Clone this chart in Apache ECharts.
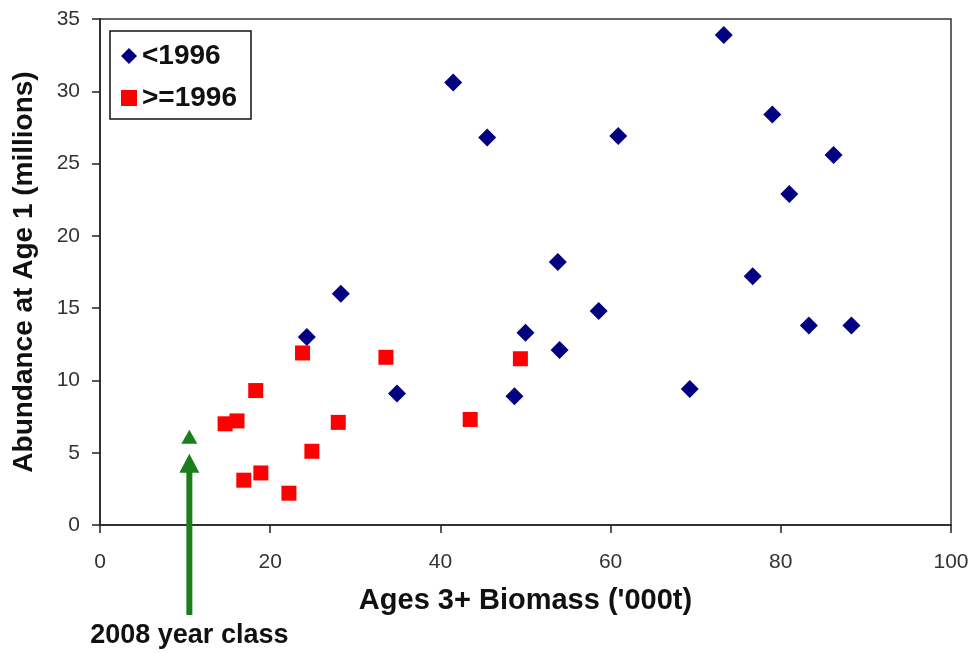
<!DOCTYPE html>
<html>
<head>
<meta charset="utf-8">
<script src="https://cdn.jsdelivr.net/npm/echarts@6/dist/echarts.min.js"></script>
<style>html,body{margin:0;padding:0;background:#fff}#c{width:974px;height:653px}</style>
</head>
<body>
<div id="c"></div>
<script>
// Series <1996 (blue diamonds)
const oldX = [41.5, 73.3, 45.5, 60.9, 79.0, 86.2, 81.0, 53.8, 76.7, 28.3, 58.6, 24.3, 50.0, 83.3, 88.3, 54.0, 34.9, 48.7, 69.3];
const oldY = [30.6, 33.9, 26.8, 26.9, 28.4, 25.6, 22.9, 18.2, 17.2, 16.0, 14.8, 13.0, 13.3, 13.8, 13.8, 12.1, 9.1, 8.9, 9.4];
// Series >=1996 (red squares)
const newX = [23.8, 33.6, 49.4, 18.3, 14.7, 16.1, 28.0, 43.5, 24.9, 16.9, 18.9, 22.2];
const newY = [11.9, 11.6, 11.5, 9.3, 7.0, 7.2, 7.1, 7.3, 5.1, 3.1, 3.6, 2.2];
// 2008 year class (green triangle)
const ycX = [10.5];
const ycY = [6.1];
const seriesNames = ['<1996', '>=1996'];
const annotation = '2008 year class';
const xTitle = "Ages 3+ Biomass ('000t)";
const yTitle = 'Abundance at Age 1 (millions)';

const zip = (a, b) => a.map((v, i) => [v, b[i]]);
const FF = '"Liberation Sans", Arial, sans-serif';

const chart = echarts.init(document.getElementById('c'), null, {renderer: 'canvas'});
const option = {
  animation: false,
  backgroundColor: '#fff',
  textStyle: {fontFamily: FF},
  grid: {left: 100, right: 23, top: 19, bottom: 128, show: true, borderColor: '#333', borderWidth: 1.5, backgroundColor: 'transparent'},
  legend: {
    data: seriesNames,
    orient: 'vertical',
    left: 110, top: 31,
    padding: [11, 14, 7, 11],
    itemGap: 14,
    itemWidth: 16, itemHeight: 16,
    borderColor: '#111', borderWidth: 1.5,
    backgroundColor: '#fff',
    textStyle: {fontSize: 28, fontWeight: 'bold', color: '#111', fontFamily: FF}
  },
  xAxis: {
    type: 'value', min: 0, max: 100, interval: 20,
    name: xTitle, nameLocation: 'middle', nameGap: 61,
    nameTextStyle: {fontSize: 29, fontWeight: 'bold', color: '#111', fontFamily: FF},
    axisLine: {show: true, onZero: false, lineStyle: {color: '#222', width: 1.5}},
    axisTick: {show: true, inside: false, length: 8, lineStyle: {color: '#222', width: 1.5}},
    axisLabel: {fontSize: 21, color: '#333', margin: 27, fontFamily: FF},
    splitLine: {show: false}
  },
  yAxis: {
    type: 'value', min: 0, max: 35, interval: 5,
    name: yTitle, nameLocation: 'middle', nameGap: 62,
    nameTextStyle: {fontSize: 28, fontWeight: 'bold', color: '#111', fontFamily: FF},
    axisLine: {show: true, onZero: false, lineStyle: {color: '#222', width: 1.5}},
    axisTick: {show: true, inside: false, length: 8, lineStyle: {color: '#222', width: 1.5}},
    axisLabel: {fontSize: 21, color: '#333', margin: 20, fontFamily: FF},
    splitLine: {show: false}
  },
  series: [
    {name: seriesNames[0], type: 'scatter', symbol: 'diamond', symbolSize: 18,
     itemStyle: {color: '#000080', opacity: 1}, data: zip(oldX, oldY), z: 3},
    {name: seriesNames[1], type: 'scatter', symbol: 'rect', symbolSize: 15,
     itemStyle: {color: '#ff0000', opacity: 1}, data: zip(newX, newY), z: 3},
    {name: annotation, type: 'scatter', symbol: 'triangle', symbolSize: [16, 14],
     itemStyle: {color: '#1b7d1b', opacity: 1}, data: zip(ycX, ycY), z: 3}
  ]
};
chart.setOption(option);

// Arrow + annotation placed relative to the 2008 point
const p = chart.convertToPixel({gridIndex: 0}, [ycX[0], ycY[0]]);
const base = chart.convertToPixel({gridIndex: 0}, [0, 0]);
const tipY = p[1] + 17;
const headBase = tipY + 19;
const shaftEnd = base[1] + 90;
chart.setOption({
  graphic: [
    {type: 'rect', shape: {x: p[0] - 3, y: headBase - 1, width: 6, height: shaftEnd - headBase + 1},
     style: {fill: '#1b7d1b'}, z: 10},
    {type: 'polygon', shape: {points: [[p[0], tipY], [p[0] - 10, headBase], [p[0] + 10, headBase]]},
     style: {fill: '#1b7d1b'}, z: 10},
    {type: 'text', x: p[0], y: base[1] + 111,
     style: {text: annotation, fill: '#111', font: 'bold 27px ' + FF, textAlign: 'center', textVerticalAlign: 'middle'}, z: 10}
  ]
});
</script>
</body>
</html>
